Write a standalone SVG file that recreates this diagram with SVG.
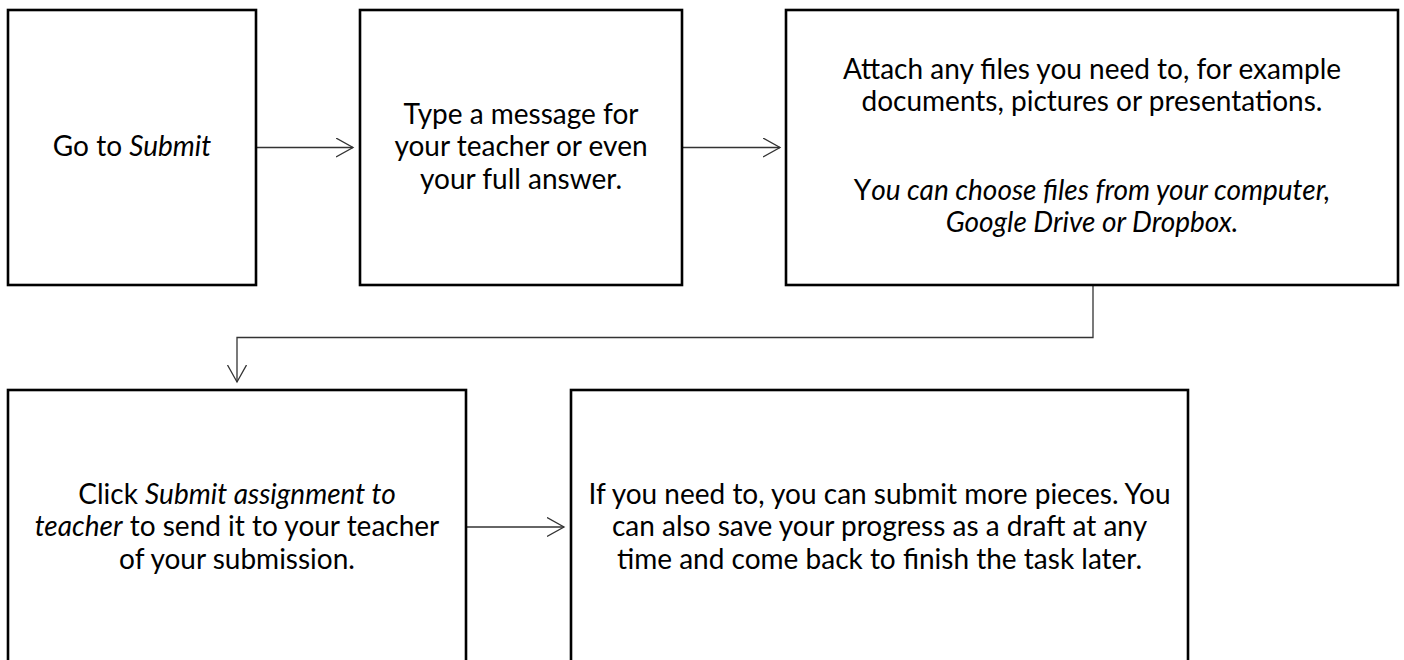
<svg xmlns="http://www.w3.org/2000/svg" width="1404" height="660" viewBox="0 0 1404 660">
<style>
.box{fill:#fff;stroke:#000;stroke-width:2.6}
.t{font-family:Lato,"Liberation Sans",sans-serif;font-size:28px;fill:#000;text-anchor:middle}
.i{font-style:italic}
.c{fill:none;stroke:#333;stroke-width:1.3}
</style>
<defs>
<marker id="arr" markerUnits="userSpaceOnUse" markerWidth="20" markerHeight="22" refX="17" refY="10" orient="auto" viewBox="0 0 20 22">
<path d="M0,0.5 L17,10 L0,19.5" fill="none" stroke="#333" stroke-width="1.3"/>
</marker>
</defs>
<rect width="1404" height="660" fill="#fff"/>
<g id="connectors">
<line class="c" x1="256" y1="147.5" x2="353" y2="147.5" marker-end="url(#arr)"/>
<line class="c" x1="682" y1="147.5" x2="780" y2="147.5" marker-end="url(#arr)"/>
<polyline class="c" points="1093,285 1093,337.5 237,337.5 237,382" marker-end="url(#arr)"/>
<line class="c" x1="466" y1="527" x2="564" y2="527" marker-end="url(#arr)"/>
</g>
<g id="node1">
<rect class="box" x="8" y="10" width="248" height="275"/>
<text class="t" x="132" y="156">Go to <tspan class="i">Submit</tspan></text>
</g>
<g id="node2">
<rect class="box" x="360" y="10" width="322" height="275"/>
<text class="t" x="521" y="123.5">Type a message for</text>
<text class="t" x="521" y="156">your teacher or even</text>
<text class="t" x="521" y="188.5">your full answer.</text>
</g>
<g id="node3">
<rect class="box" x="786" y="10" width="612" height="275"/>
<text class="t" x="1092" y="79">Attach any files you need to, for example</text>
<text class="t" x="1092" y="111">documents, pictures or presentations.</text>
<text class="t" x="1092" y="200">Y<tspan class="i">ou can choose files from your computer,</tspan></text>
<text class="t i" x="1092" y="232">Google Drive or Dropbox.</text>
</g>
<g id="node4">
<rect class="box" x="8" y="390" width="458" height="300"/>
<text class="t" x="237" y="503.5">Click <tspan class="i">Submit assignment to</tspan></text>
<text class="t" x="237" y="536"><tspan class="i">teacher</tspan> to send it to your teacher</text>
<text class="t" x="237" y="568.5">of your submission.</text>
</g>
<g id="node5">
<rect class="box" x="571" y="390" width="617" height="300"/>
<text class="t" x="879.5" y="503.5">If you need to, you can submit more pieces. You</text>
<text class="t" x="879.5" y="536">can also save your progress as a draft at any</text>
<text class="t" x="879.5" y="568.5">time and come back to finish the task later.</text>
</g>
</svg>
